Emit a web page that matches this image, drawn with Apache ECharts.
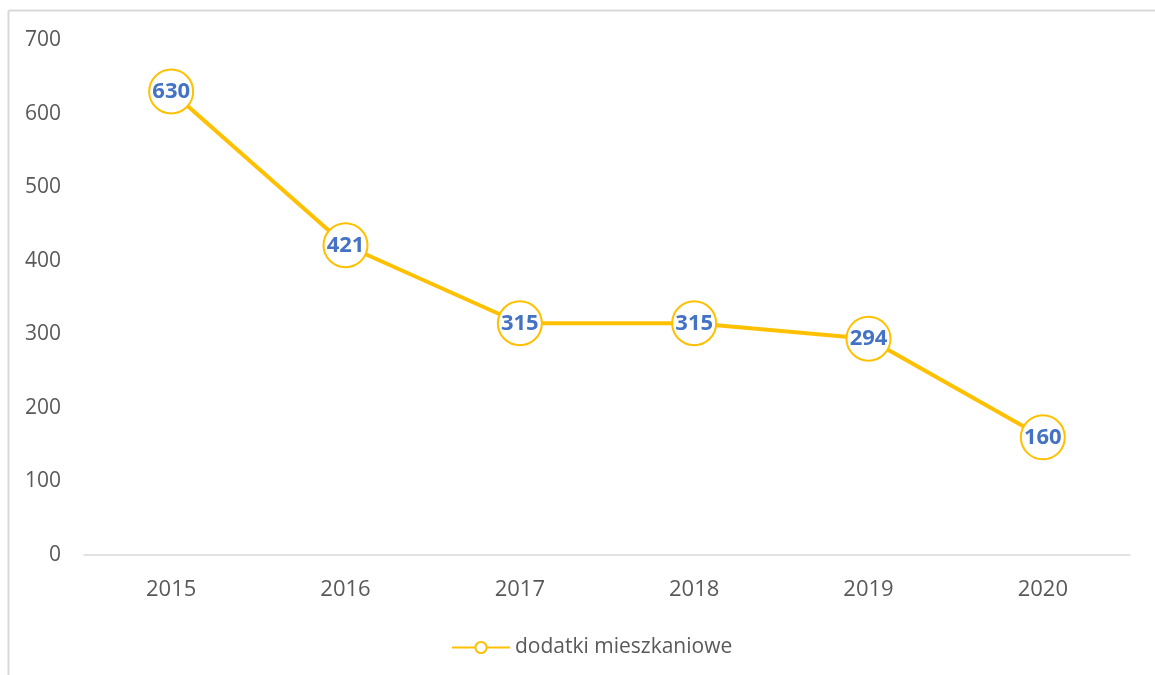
<!DOCTYPE html>
<html>
<head>
    <meta charset="utf-8">
    <title>dodatki mieszkaniowe</title>
    <style>
        body{
            margin: 0;
            padding: 0;
        }
        #container{
            width: 1155px;
            height: 675px;
        }
    </style>
</head>
<body>
    <div id="container"></div>
    <script src="https://cdn.jsdelivr.net/npm/echarts@6/dist/echarts.min.js"></script>
    <script type="text/javascript">
    // dane wykresu
    var years = ['2015', '2016', '2017', '2018', '2019', '2020'];
    var dodatki = [630, 421, 315, 315, 294, 160];
    var seriesName = 'dodatki mieszkaniowe';

    var myChart = echarts.init(document.getElementById('container'));

    var option = {
        animation: false,
        textStyle: { fontFamily: 'Open Sans, Noto Sans, sans-serif' },
        // ramka (tylko lewa i górna krawędź widoczna)
        graphic: [
            { type: 'line', shape: { x1: 8.5, y1: 10.5, x2: 1155, y2: 10.5 }, style: { stroke: '#d9d9d9', lineWidth: 2 } },
            { type: 'line', shape: { x1: 8.5, y1: 10.5, x2: 8.5, y2: 675 }, style: { stroke: '#d9d9d9', lineWidth: 2 } }
        ],
        grid: {
            left: 84,
            right: 25,
            top: 40,
            bottom: 120
        },
        legend: {
            bottom: 12,
            left: 446,
            itemWidth: 58,
            itemHeight: 14,
            textStyle: { color: '#595959', fontSize: 21 },
            data: [seriesName]
        },
        xAxis: {
            type: 'category',
            data: years,
            axisLine: { lineStyle: { color: '#d9d9d9', width: 1.5 } },
            axisTick: { show: false },
            axisLabel: { color: '#595959', fontSize: 22, margin: 24 }
        },
        yAxis: {
            type: 'value',
            min: 0,
            max: 700,
            interval: 100,
            axisLine: { show: false },
            axisTick: { show: false },
            splitLine: { show: false },
            axisLabel: { color: '#595959', fontSize: 21, margin: 23, align: 'right' }
        },
        series: [{
            name: seriesName,
            type: 'line',
            data: dodatki,
            symbol: 'circle',
            symbolSize: 44,
            lineStyle: { color: '#ffc000', width: 4 },
            itemStyle: { color: '#ffffff', borderColor: '#ffc000', borderWidth: 2 },
            label: {
                show: true,
                position: 'inside',
                color: '#4472c4',
                fontWeight: 'bold',
                fontSize: 22
            },
            emphasis: { disabled: true }
        }]
    };

    myChart.setOption(option);
    </script>
</body>
</html>
